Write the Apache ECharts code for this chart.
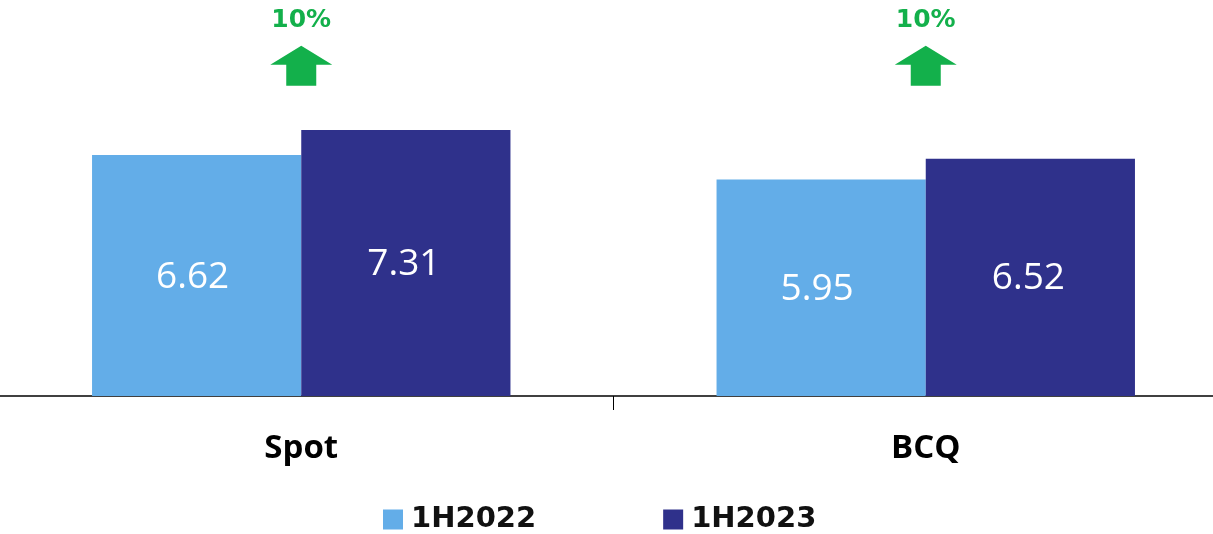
<!DOCTYPE html>
<html>
<head>
<meta charset="utf-8">
<script src="https://cdn.jsdelivr.net/npm/echarts@6/dist/echarts.min.js"></script>
<style>
  html, body { margin: 0; padding: 0; background: #fff; overflow: hidden; }
  /* category bands run past the page edges, so the chart box is wider than the page */
  #chart { width: 1249px; height: 534px; margin-left: -11px; }
</style>
</head>
<body>
<div id="chart"></div>
<script>
const categories = ['Spot', 'BCQ']
const seriesNames = ['1H2022', '1H2023']
const values2022 = [6.62, 5.95]
const values2023 = [7.31, 6.52]
const growthLabels = ['10%', '10%']
const arrowLevel = [9.07, 9.07]

const chart = echarts.init(document.getElementById('chart'))
const option = {
  animation: false,
  grid: {
    left: 0,
    right: 0,
    top: 32,
    bottom: 138,
  },
  legend: {
    top: 500,
    left: 389,
    itemWidth: 20,
    itemHeight: 20,
    itemGap: 127,
    icon: 'rect',
    data: seriesNames,
    textStyle: {
      fontFamily: 'DejaVu Sans',
      fontWeight: 'bold',
      fontSize: 29,
      color: '#111',
      padding: [0, 0, 0, 3],
    },
  },
  xAxis: {
    type: 'category',
    data: categories,
    axisLine: { lineStyle: { color: '#000', width: 1.5 } },
    axisTick: { show: true, length: 14, lineStyle: { color: '#000', width: 1 } },
    axisLabel: {
      margin: 36,
      fontFamily: 'Open Sans',
      fontWeight: 'bold',
      fontSize: 33,
      color: '#000',
    },
  },
  yAxis: {
    type: 'value',
    min: 0,
    max: 10,
    show: false,
  },
  series: [
    {
      name: seriesNames[0],
      type: 'bar',
      data: values2022,
      barGap: '0%',
      barCategoryGap: '33%',
      itemStyle: { color: '#63ADE8' },
      label: {
        show: true,
        position: 'inside',
        color: '#fff',
        fontFamily: 'Open Sans',
        fontSize: 37,
        offset: [-4, 2],
      },
    },
    {
      name: seriesNames[1],
      type: 'bar',
      data: values2023,
      itemStyle: { color: '#2F318B' },
      label: {
        show: true,
        position: 'inside',
        color: '#fff',
        fontFamily: 'Open Sans',
        fontSize: 37,
        offset: [-2, 1],
      },
    },
    {
      // growth arrows above each pair
      type: 'scatter',
      data: arrowLevel,
      symbol: 'path://M31,0 L62,19 L46,19 L46,40 L16,40 L16,19 L0,19 Z',
      symbolSize: [62, 40],
      itemStyle: { color: '#13B04B', opacity: 1 },
      label: {
        show: true,
        position: 'top',
        distance: 13,
        formatter: function (p) {
          return growthLabels[p.dataIndex]
        },
        color: '#13B04B',
        fontFamily: 'DejaVu Sans',
        fontWeight: 'bold',
        fontSize: 25,
      },
      silent: true,
    },
  ],
}
chart.setOption(option)
</script>
</body>
</html>
